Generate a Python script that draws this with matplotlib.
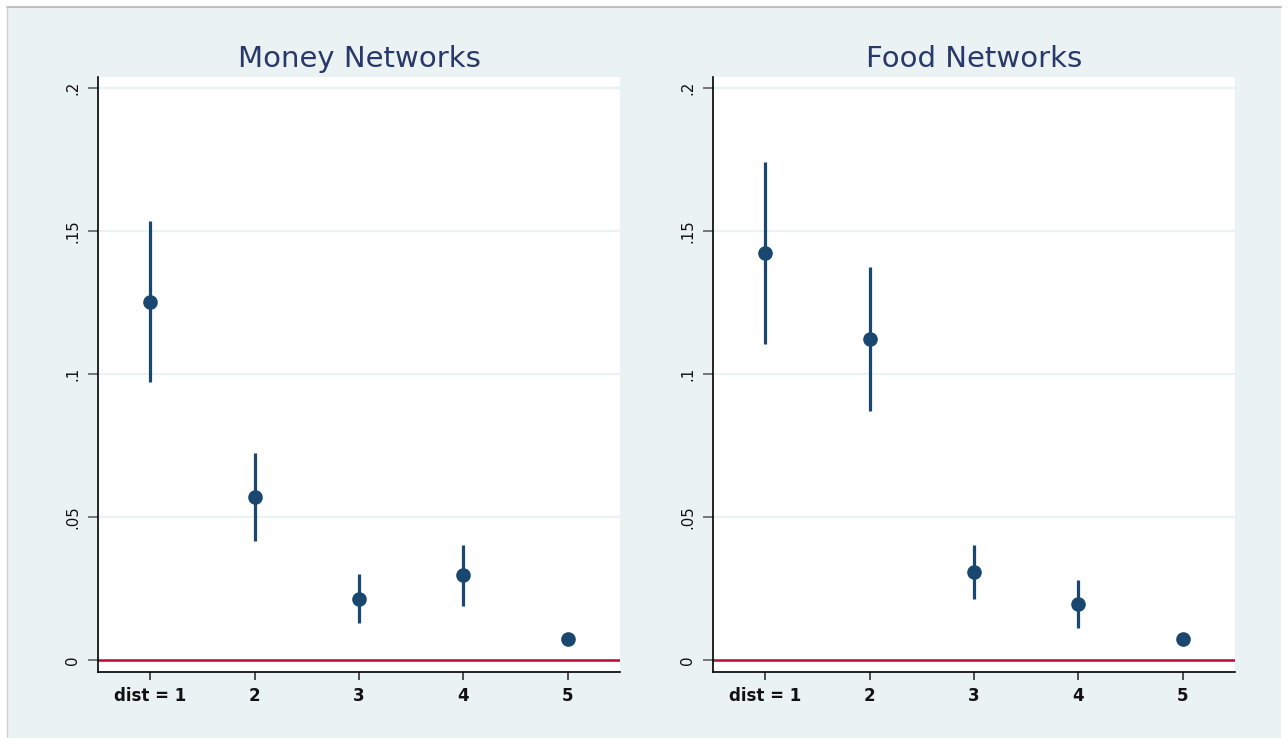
import matplotlib
matplotlib.use("Agg")
import matplotlib.pyplot as plt
from matplotlib.patches import Rectangle
from matplotlib.lines import Line2D

plt.rcParams["font.family"] = ["DejaVu Sans"]

# Point estimates and confidence bounds by network distance
dist = [1, 2, 3, 4, 5]
dist_labels = ["dist = 1", "2", "3", "4", "5"]

money_est = [0.1252, 0.0570, 0.0213, 0.0297, 0.0073]
money_lo = [0.0972, 0.0416, 0.0129, 0.0189, 0.0068]
money_hi = [0.1535, 0.0722, 0.0302, 0.0402, 0.0078]

food_est = [0.1423, 0.1123, 0.0308, 0.0196, 0.0073]
food_lo = [0.1105, 0.0872, 0.0213, 0.0112, 0.0068]
food_hi = [0.1741, 0.1373, 0.0402, 0.0280, 0.0078]

yticks = [0, 0.05, 0.1, 0.15, 0.2]
ytick_labels = ["0", ".05", ".1", ".15", ".2"]

BG = "#EAF2F3"
NAVY = "#1A476F"
RED = "#C10534"
TITLE = "#283868"

W, H = 1287, 738
fig = plt.figure(figsize=(W / 100, H / 100), dpi=100)
fig.patch.set_facecolor("white")

# graph region background with thin border on top and left
fig.add_artist(Rectangle((7 / W, 0), (1281 - 7) / W, (H - 7) / H,
                         transform=fig.transFigure, facecolor=BG,
                         edgecolor="none", zorder=-10))
fig.add_artist(Line2D([7 / W, 1281 / W], [(H - 7) / H] * 2,
                      transform=fig.transFigure, color="#B4B4B4", lw=1.2))
fig.add_artist(Line2D([7 / W, 7 / W], [0, (H - 7) / H],
                      transform=fig.transFigure, color="#D0D0D0", lw=1.0))


def panel(left_px, right_px, title, est, lo, hi):
    top_px, bot_px = 77, 672
    ax = fig.add_axes([left_px / W, (H - bot_px) / H,
                       (right_px - left_px) / W, (bot_px - top_px) / H])
    ax.set_facecolor("white")
    ax.set_xlim(0.5, 5.5)
    ax.set_ylim(-0.0042, 0.2038)

    for y in yticks[1:]:
        ax.axhline(y, color=BG, lw=1.6, zorder=0)
    ax.axhline(0, color=RED, lw=1.8, zorder=1)

    ax.vlines(dist, lo, hi, color=NAVY, lw=2.3, zorder=2)
    ax.plot(dist, est, "o", color=NAVY, ms=9.5, mec=NAVY, zorder=3)

    for s in ["top", "right"]:
        ax.spines[s].set_visible(False)
    for s in ["left", "bottom"]:
        ax.spines[s].set_color("black")
        ax.spines[s].set_linewidth(1.2)

    ax.set_xticks(dist)
    ax.set_xticklabels(dist_labels, fontsize=12, fontweight="bold",
                       color="#111111")
    ax.set_yticks(yticks)
    ax.set_yticklabels(ytick_labels, fontsize=10.8, rotation=90,
                       va="center", color="#111111")
    ax.tick_params(axis="x", length=6, width=1.1, color="#222222", pad=5)
    ax.tick_params(axis="y", length=7, width=1.1, color="#555555", pad=6)

    ax.set_title(title, fontsize=21, color=TITLE, pad=7)
    return ax


panel(98, 620, "Money Networks", money_est, money_lo, money_hi)
panel(713, 1235, "Food Networks", food_est, food_lo, food_hi)

fig.savefig("out.png", dpi=100)
